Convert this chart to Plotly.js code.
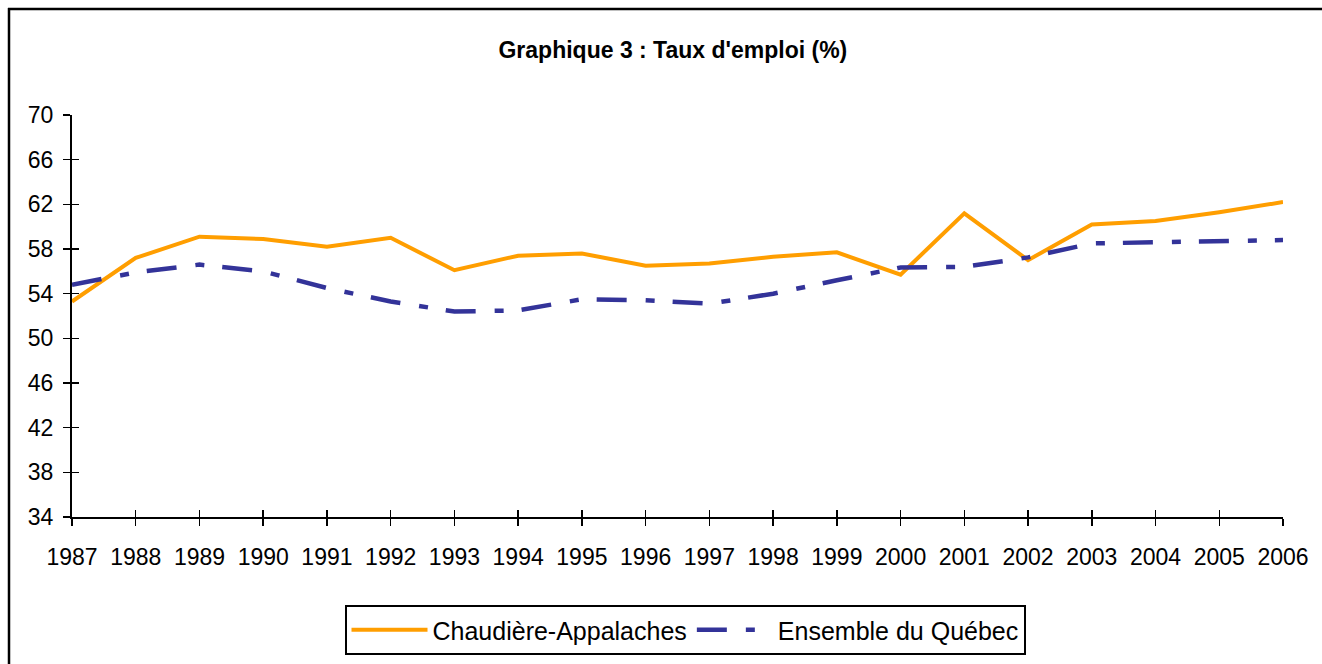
<!DOCTYPE html>
<html>
<head>
<meta charset="utf-8">
<script src="https://cdn.plot.ly/plotly-3.0.1.min.js"></script>
<style>html,body{margin:0;padding:0;background:#fff;}#chart{width:1322px;height:664px;}</style>
</head>
<body>
<div id="chart"></div>
<script>
const years = [1987,1988,1989,1990,1991,1992,1993,1994,1995,1996,1997,1998,1999,2000,2001,2002,2003,2004,2005,2006];
const chaudiere = [53.3,57.2,59.1,58.9,58.2,59.0,56.1,57.4,57.6,56.5,56.7,57.3,57.7,55.7,61.2,57.0,60.2,60.5,61.3,62.2];
const quebec = [54.8,55.9,56.6,56.0,54.5,53.3,52.4,52.5,53.5,53.4,53.1,54.0,55.2,56.35,56.4,57.25,58.5,58.6,58.7,58.8];
const yTicks = [34,38,42,46,50,54,58,62,66,70];
const seriesNames = ["Chaudière-Appalaches","Ensemble du Québec"];

const FONT = '"Liberation Sans", Arial, sans-serif';
const W = 1322, H = 664, L = 72, R = 39, T = 115, B = 147;
const pw = W - L - R, ph = H - T - B;
const px = x => (x - L) / pw;
const py = y => (H - B - y) / ph;

const traces = [
  {x: years, y: chaudiere, name: seriesNames[0], type: 'scatter', mode: 'lines',
   line: {color: '#FF9E00', width: 4}},
  {x: years, y: quebec, name: seriesNames[1], type: 'scatter', mode: 'lines',
   line: {color: '#333399', width: 4.5, dash: '30px,19px,9px,18px'}}
];

const layout = {
  width: W, height: H,
  margin: {l: L, r: R, t: T, b: B, pad: 0, autoexpand: false},
  paper_bgcolor: '#fff', plot_bgcolor: '#fff',
  font: {family: FONT, color: '#000', size: 23},
  title: {text: '<b>Graphique 3 : Taux d\'emploi (%)</b>', font: {family: FONT, size: 23, color: '#000'},
          xref: 'container', yref: 'container', x: 0.509, xanchor: 'center', y: 1 - 50/H, yanchor: 'middle'},
  showlegend: true,
  legend: {orientation: 'h', x: px(685), xanchor: 'center', y: py(605), yanchor: 'top',
           bgcolor: '#fff', bordercolor: '#000', borderwidth: 2, itemwidth: 76,
           font: {family: FONT, size: 25, color: '#000'}, tracegroupgap: 0},
  xaxis: {range: [1987, 2006], tickvals: years, ticktext: years.map(String),
          showgrid: false, zeroline: false, showline: true, linecolor: '#000', linewidth: 2,
          ticks: 'outside', ticklen: 7, tickwidth: 1.5, tickcolor: '#000', automargin: false,
          tickfont: {family: FONT, size: 23, color: '#000'}, ticklabelstandoff: 11, fixedrange: true},
  xaxis2: {overlaying: 'x', matches: 'x', range: [1987, 2006], tickvals: years, showticklabels: false,
           showgrid: false, zeroline: false, showline: false,
           ticks: 'inside', ticklen: 7, tickwidth: 1.5, tickcolor: '#000', side: 'bottom'},
  yaxis: {range: [34, 70], tickvals: yTicks, ticktext: yTicks.map(String),
          showgrid: false, zeroline: false, showline: true, linecolor: '#000', linewidth: 2,
          ticks: 'outside', ticklen: 7, tickwidth: 1.5, tickcolor: '#000', automargin: false,
          tickfont: {family: FONT, size: 23, color: '#000'}, ticklabelstandoff: 5, fixedrange: true},
  yaxis2: {overlaying: 'y', matches: 'y', range: [34, 70], tickvals: yTicks, showticklabels: false,
           showgrid: false, zeroline: false, showline: false,
           ticks: 'inside', ticklen: 7, tickwidth: 1.5, tickcolor: '#000', side: 'left'},
  shapes: [
    {type: 'line', xref: 'paper', yref: 'paper', x0: px(8), x1: px(1340), y0: py(9), y1: py(9),
     line: {color: '#000', width: 2.5}},
    {type: 'line', xref: 'paper', yref: 'paper', x0: px(9), x1: px(9), y0: py(8), y1: py(700),
     line: {color: '#000', width: 2.5}}
  ]
};

const dummy = [
  {x: [1987], y: [34], xaxis: 'x2', yaxis: 'y2', type: 'scatter', mode: 'markers',
   marker: {opacity: 0}, showlegend: false, hoverinfo: 'skip'}
];

Plotly.newPlot('chart', traces.concat(dummy), layout, {staticPlot: true});
</script>
</body>
</html>
